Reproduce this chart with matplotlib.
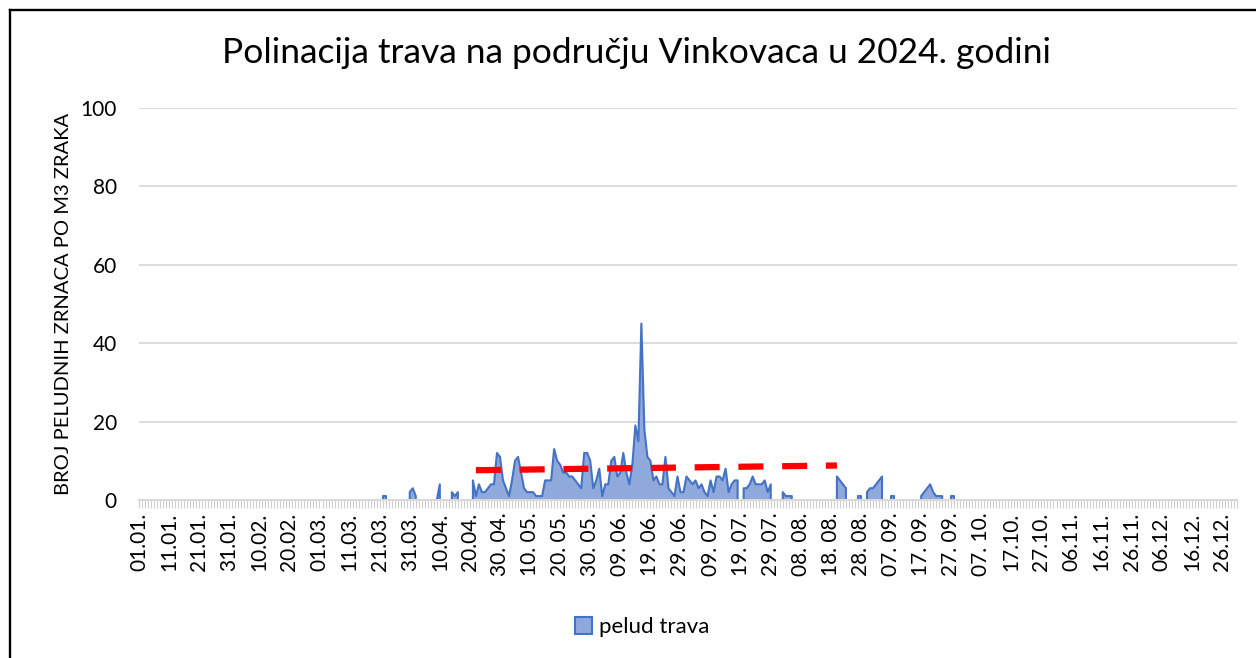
import numpy as np
import matplotlib
matplotlib.use('Agg')
import matplotlib.pyplot as plt
from matplotlib.patches import Patch
from matplotlib.lines import Line2D

# daily grass pollen, 2024 (day 0 = 01.01.), segments of consecutive measured days
seg_start = [81, 90, 99, 104, 111, 201, 214, 232, 239, 242, 250, 260, 270]
seg_values = [
    [1, 1],
    [2, 3, 1],
    [0, 4],
    [2, 1, 2],
    [5, 1, 4, 2, 2, 3, 4, 4, 12, 11, 5, 3, 1, 5, 10, 11, 7, 3, 2, 2,
     2, 1, 1, 1, 5, 5, 5, 13, 10, 9, 7, 7, 6, 6, 5, 4, 3, 12, 12, 10,
     3, 5, 8, 1, 4, 4, 10, 11, 6, 7, 12, 7, 4, 9, 19, 15, 45, 18, 11, 10,
     5, 6, 4, 4, 11, 3, 2, 1, 6, 2, 2, 6, 5, 4, 5, 3, 4, 2, 1, 5,
     2, 6, 6, 5, 8, 2, 4, 5, 5],
    [3, 3, 4, 6, 4, 4, 4, 5, 2, 4],
    [2, 1, 1, 1],
    [6, 5, 4, 3],
    [1, 1],
    [2, 3, 3, 4, 5, 6],
    [1, 1],
    [1, 2, 3, 4, 2, 1, 1, 1],
    [1, 1],
]

# trend line (red dashed) end points
trend_days = [112, 232]
trend_vals = [7.6, 8.8]

tick_days = list(range(0, 366, 10))
tick_labels = ['01.01.', '11.01.', '21.01.', '31.01.', '10.02.', '20.02.', '01.03.',
               '11.03.', '21.03.', '31.03.', '10.04.', '20.04.', '30. 04.', '10. 05.',
               '20. 05.', '30. 05.', '09. 06.', '19. 06.', '29. 06.', '09. 07.',
               '19. 07.', '29. 07.', '08. 08.', '18. 08.', '28. 08.', '07. 09.',
               '17. 09.', '27. 09.', '07. 10.', '17.10.', '27.10.', '06.11.', '16.11.',
               '26.11.', '06.12.', '16.12.', '26.12.']

pollen = np.full(366, np.nan)
for s, vals in zip(seg_start, seg_values):
    pollen[s:s + len(vals)] = vals
days = np.arange(366)

plt.rcParams['font.family'] = ['Lato', 'DejaVu Sans']

W, H = 1256, 658
fig = plt.figure(figsize=(W / 100, H / 100), dpi=100)
ax = fig.add_axes([139 / W, 1 - 500 / H, (1237 - 139) / W, (500 - 108) / H])

ax.fill_between(days, 0, pollen, facecolor='#8FA9DC', edgecolor='#4472C4',
                linewidth=1.5, zorder=2)
ax.plot(trend_days, trend_vals, color='#FF0000', linewidth=4.5,
        dashes=(4, 3), zorder=3)

ax.set_xlim(0, 365)
ax.set_ylim(0, 100)
ax.set_yticks(range(0, 101, 20))
ax.tick_params(axis='y', length=0, pad=16, labelsize=15)
ax.grid(axis='y', color='#d9d9d9', linewidth=1.3)
ax.set_axisbelow(True)

ax.set_xticks(tick_days)
ax.set_xticklabels(tick_labels, rotation=90, va='top', ha='center')
ax.set_xticks(days, minor=True)
ax.tick_params(axis='x', which='both', length=6, color='#cfcfcf', width=0.8,
               labelsize=15, pad=3)

for side in ['left', 'right', 'top']:
    ax.spines[side].set_visible(False)
ax.spines['bottom'].set_color('#d9d9d9')
ax.spines['bottom'].set_linewidth(1.5)
ax.spines['bottom'].set_zorder(4)

ax.set_ylabel('BROJ PELUDNIH ZRNACA PO M3 ZRAKA', fontsize=14.5)
ax.yaxis.set_label_coords(-67 / 1098, 0.5)

fig.text(637 / W, 1 - 53 / H, 'Polinacija trava na području Vinkovaca u 2024. godini',
         fontsize=25.5, ha='center', va='center')

handle = Patch(facecolor='#8FA9DC', edgecolor='#4472C4', linewidth=1.5)
fig.legend([handle], ['pelud trava'], loc='center', frameon=False,
           bbox_to_anchor=(642 / W, 1 - 627 / H), fontsize=16,
           handlelength=0.8, handleheight=0.8, handletextpad=0.3)

# outer chart frame
fig.add_artist(Line2D([10 / W, 10 / W], [0, 1 - 10 / H], color='black', linewidth=1.7))
fig.add_artist(Line2D([10 / W, 1], [1 - 10 / H, 1 - 10 / H], color='black', linewidth=1.7))

fig.savefig('out.png', dpi=100)
